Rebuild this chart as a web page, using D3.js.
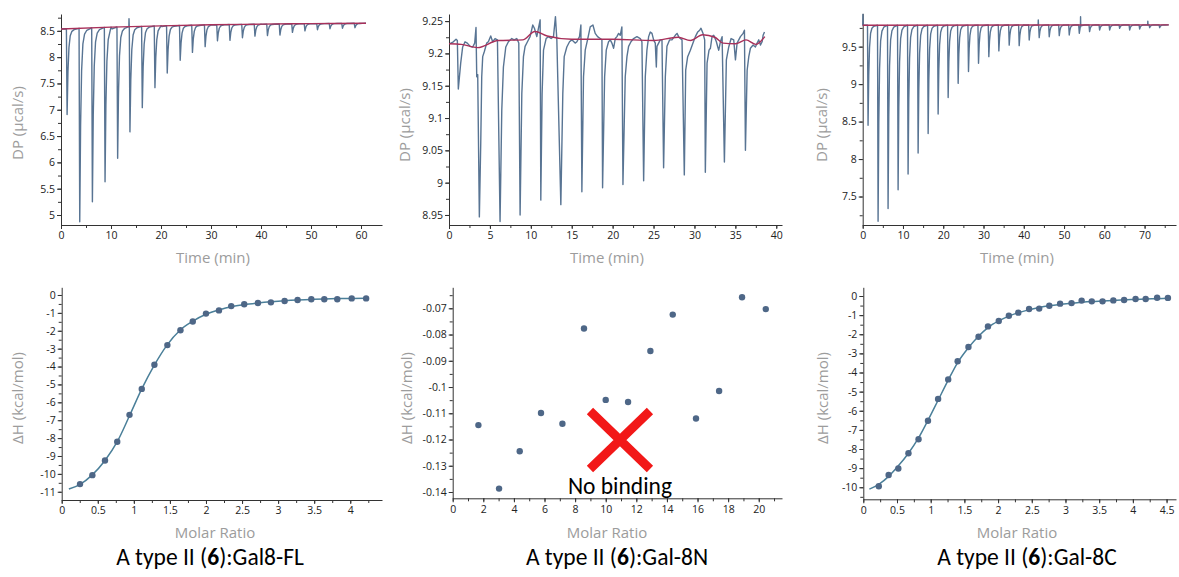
<!DOCTYPE html>
<html lang="en">
<head>
<meta charset="UTF-8">
<title>ITC panels</title>
<script src="https://d3js.org/d3.v7.min.js"></script>
<style>
    body { margin: 0; background: #fff; }
    .tick text { font-family: "Open Sans", sans-serif; font-size: 10.5px; fill: #222; }
    .axis path, .axis line { stroke: #333; }
    .title { font-family: "Open Sans", sans-serif; font-size: 15px; fill: #9c9c9c; }
    .caption { font-family: Carlito, "Open Sans", sans-serif; font-size: 23.5px; fill: #000; }
</style>
</head>
<body>
<script>
    // ---- raw thermograms (top row) ----
    // Gal8-FL: injection times (min), peak minima (ucal/s), baseline
    const injT1 = [1.13, 3.66, 6.19, 8.72, 11.24, 13.7, 16.17, 18.7, 21.16, 23.75, 26.2, 28.74,
        31.2, 33.7, 36.2, 38.7, 41.2, 43.7, 46.2, 48.7, 51.2, 53.7, 56.2, 58.7];
    const injMin1 = [6.91, 4.87, 5.25, 5.63, 6.08, 6.58, 7.04, 7.42, 7.70, 7.94, 8.09, 8.20,
        8.31, 8.32, 8.37, 8.40, 8.41, 8.42, 8.47, 8.50, 8.52, 8.54, 8.55, 8.56];
    const base1 = [[0, 8.535], [10, 8.57], [20, 8.595], [30, 8.615], [40, 8.627], [50, 8.637], [61, 8.645]];
    const spikes1 = [[13.6, 8.73]];

    // Gal-8N: noisy trace read point by point
    const trace2 = [[0.12, 9.215], [0.53, 9.218], [0.86, 9.222], [1.02, 9.220], [1.14, 9.145], [1.43, 9.185], [1.67, 9.210],
        [1.96, 9.218], [2.24, 9.216], [2.57, 9.211], [2.9, 9.210], [3.14, 9.216], [3.30, 9.240], [3.39, 9.164], [3.51, 9.167],
        [3.71, 8.947], [3.88, 9.061], [4.0, 9.164], [4.12, 9.195], [4.32, 9.203], [4.61, 9.216], [4.81, 9.218], [5.1, 9.227],
        [5.34, 9.218], [5.63, 9.223], [5.92, 9.221], [6.24, 8.940], [6.45, 9.112], [6.65, 9.179], [6.94, 9.210], [7.26, 9.218],
        [7.67, 9.223], [7.96, 9.221], [8.28, 9.223], [8.53, 9.216], [8.69, 8.950], [8.9, 9.138], [9.1, 9.195], [9.3, 9.211],
        [9.59, 9.218], [9.91, 9.226], [10.24, 9.244], [10.44, 9.239], [10.73, 9.226], [11.14, 9.252], [11.22, 8.973],
        [11.38, 9.138], [11.55, 9.205], [11.87, 9.223], [12.16, 9.226], [12.48, 9.223], [12.77, 9.226], [13.01, 9.257],
        [13.18, 9.221], [13.67, 8.966], [13.91, 9.138], [14.08, 9.195], [14.4, 9.210], [14.73, 9.218], [15.01, 9.221],
        [15.42, 9.216], [15.63, 9.218], [15.95, 9.226], [16.12, 9.244], [16.24, 8.986], [16.44, 9.164], [16.65, 9.205],
        [16.93, 9.221], [17.26, 9.241], [17.59, 9.244], [17.87, 9.231], [18.16, 9.226], [18.48, 9.223], [18.69, 9.221],
        [18.77, 8.992], [19.02, 9.164], [19.22, 9.205], [19.5, 9.218], [19.71, 9.221], [19.91, 9.216], [20.12, 9.208],
        [20.32, 9.223], [20.52, 9.226], [20.73, 9.231], [20.93, 9.228], [21.13, 9.241], [21.26, 8.997], [21.54, 9.164],
        [21.75, 9.195], [21.95, 9.211], [22.24, 9.218], [22.56, 9.223], [22.97, 9.226], [23.38, 9.223], [23.58, 9.218],
        [23.79, 9.003], [23.99, 9.164], [24.19, 9.205], [24.4, 9.226], [24.6, 9.233], [24.81, 9.231], [25.01, 9.221],
        [25.21, 9.216], [25.34, 9.179], [25.42, 9.211], [25.82, 9.221], [26.03, 9.221], [26.23, 9.023], [26.44, 9.164],
        [26.64, 9.211], [26.97, 9.221], [27.25, 9.221], [27.66, 9.228], [27.87, 9.231], [28.07, 9.226], [28.27, 9.223],
        [28.48, 9.221], [28.76, 9.012], [28.93, 9.174], [29.17, 9.195], [29.5, 9.205], [29.82, 9.216], [30.11, 9.226],
        [30.39, 9.233], [30.64, 9.236], [30.8, 9.239], [31.05, 9.231], [31.25, 9.221], [31.33, 9.016], [31.54, 9.185],
        [31.78, 9.205], [31.95, 9.208], [32.15, 9.226], [32.36, 9.228], [32.68, 9.218], [32.85, 9.210], [32.97, 9.205],
        [33.17, 9.218], [33.38, 9.226], [33.66, 9.032], [33.9, 9.190], [34.19, 9.210], [34.48, 9.223], [34.8, 9.221],
        [35.01, 9.190], [35.21, 9.216], [35.62, 9.226], [35.95, 9.231], [36.11, 9.236], [36.23, 9.050], [36.44, 9.174],
        [36.64, 9.195], [36.84, 9.208], [37.17, 9.213], [37.45, 9.210], [37.66, 9.216], [37.86, 9.221], [38.07, 9.213],
        [38.27, 9.218], [38.39, 9.228], [38.56, 9.233]];
    const base2 = [[0, 9.215], [1.5, 9.214], [3.5, 9.209], [6, 9.22], [9, 9.221], [10.5, 9.234], [12, 9.227], [15, 9.222],
        [20, 9.222], [25, 9.22], [28, 9.225], [29.5, 9.22], [31, 9.229], [32.5, 9.225], [33.5, 9.216], [35, 9.215],
        [36.3, 9.221], [37.5, 9.214], [38.6, 9.226]];

    // Gal-8C
    const injT3 = [1.24, 3.73, 6.21, 8.7, 11.18, 13.67, 16.16, 18.64, 21.13, 23.61, 26.18, 28.67, 31.23, 33.72, 36.29,
        38.77, 41.26, 43.74, 46.23, 48.72, 51.2, 53.69, 56.25, 58.74, 61.23, 63.71, 66.2, 68.68, 71.17, 73.65];
    const injMin3 = [8.45, 7.17, 7.34, 7.59, 7.80, 8.08, 8.34, 8.60, 8.82, 9.01, 9.167, 9.278, 9.367, 9.443, 9.52,
        9.513, 9.589, 9.62, 9.633, 9.647, 9.656, 9.678, 9.70, 9.722, 9.722, 9.744, 9.722, 9.736, 9.753, 9.753];
    const base3 = [[0, 9.785], [40, 9.789], [76, 9.79]];
    const spikes3 = [[0.05, 9.93], [43.6, 9.856], [54.1, 9.9], [70.8, 9.84]];

    // shape of one injection peak: [minutes after injection, fraction of depth]
    const peakShape = [[-0.05, 0], [0.09, 1], [0.26, 0.5], [0.46, 0.22], [0.72, 0.08], [1.05, 0.03], [1.5, 0.01]];

    // ---- integrated heats (bottom row) ----
    const ratio4 = [0.254, 0.425, 0.60, 0.77, 0.94, 1.11, 1.285, 1.465, 1.646, 1.817, 2.0, 2.18, 2.35, 2.53, 2.72,
        2.90, 3.09, 3.27, 3.46, 3.64, 3.82, 4.02, 4.22];
    const dH4 = [-10.57, -10.07, -9.25, -8.2, -6.7, -5.25, -3.9, -2.8, -1.97, -1.48, -1.04, -0.86, -0.62, -0.52, -0.45,
        -0.41, -0.34, -0.28, -0.24, -0.24, -0.24, -0.19, -0.19];
    const fit4 = [[0.1, -10.85], [0.25, -10.6], [0.42, -10.07], [0.6, -9.25], [0.77, -8.2], [0.94, -6.75], [1.11, -5.25],
        [1.28, -3.95], [1.46, -2.8], [1.64, -1.97], [1.82, -1.46], [2.0, -1.08], [2.18, -0.84], [2.35, -0.66],
        [2.53, -0.54], [2.72, -0.45], [2.9, -0.38], [3.09, -0.32], [3.27, -0.28], [3.46, -0.25], [3.64, -0.22],
        [3.82, -0.2], [4.02, -0.19], [4.22, -0.18]];

    const ratio5 = [1.68, 3.03, 4.38, 5.77, 7.17, 8.58, 10.0, 11.46, 12.92, 14.38, 15.9, 17.41, 18.91, 20.46];
    const dH5 = [-0.1145, -0.1387, -0.1245, -0.1099, -0.1140, -0.0777, -0.1049, -0.1057, -0.0863, -0.0724, -0.1120,
        -0.1015, -0.0658, -0.0703];

    const ratio6 = [0.23, 0.376, 0.52, 0.67, 0.82, 0.96, 1.11, 1.26, 1.40, 1.56, 1.71, 1.85, 2.01, 2.16, 2.30, 2.46,
        2.61, 2.76, 2.92, 3.09, 3.24, 3.39, 3.55, 3.71, 3.87, 4.04, 4.19, 4.36, 4.52];
    const dH6 = [-9.95, -9.36, -9.02, -8.22, -7.49, -6.52, -5.38, -4.36, -3.41, -2.67, -2.13, -1.59, -1.31, -1.03,
        -0.87, -0.68, -0.66, -0.51, -0.40, -0.37, -0.24, -0.28, -0.28, -0.23, -0.21, -0.16, -0.16, -0.09, -0.10];
    const fit6 = [[0.09, -10.1], [0.23, -9.85], [0.38, -9.42], [0.52, -8.88], [0.67, -8.22], [0.82, -7.42], [0.96, -6.5],
        [1.11, -5.45], [1.26, -4.4], [1.4, -3.48], [1.56, -2.7], [1.71, -2.1], [1.85, -1.65], [2.01, -1.3], [2.16, -1.05],
        [2.3, -0.87], [2.46, -0.72], [2.61, -0.6], [2.76, -0.51], [2.92, -0.44], [3.09, -0.38], [3.24, -0.33],
        [3.39, -0.29], [3.55, -0.26], [3.71, -0.23], [3.87, -0.2], [4.04, -0.18], [4.19, -0.16], [4.36, -0.14],
        [4.52, -0.12]];

    const captions = ["Gal8-FL", "Gal-8N", "Gal-8C"];

    const traceColor = "#587493", baseColor = "#a8305a", fitColor = "#4a7f99", dotColor = "#4e6787";

    const svg = d3.select("body").append("svg")
        .attr("width", 1179).attr("height", 577);

    function steps(lo, hi, step) {
        return d3.range(Math.ceil(lo / step - 1e-9), Math.floor(hi / step + 1e-9) + 1)
            .map(k => +(k * step).toFixed(6));
    }
    const fmt = d => String(+d.toFixed(4));

    function panel(o) {
        const x = d3.scaleLinear().domain(o.xd).range(o.xr);
        const y = d3.scaleLinear().domain(o.yd).range(o.yr);
        const g = svg.append("g");

        // minor ticks
        g.append("g").attr("class", "axis").attr("transform", `translate(0,${o.yr[0]})`)
            .call(d3.axisBottom(x).tickValues(steps(o.xd[0], o.xd[1], o.xm)).tickSize(3).tickFormat(""))
            .select(".domain").remove();
        g.append("g").attr("class", "axis").attr("transform", `translate(${o.xr[0]},0)`)
            .call(d3.axisLeft(y).tickValues(steps(o.yd[0], o.yd[1], o.ym)).tickSize(3).tickFormat(""))
            .select(".domain").remove();
        // major ticks
        g.append("g").attr("class", "axis").attr("transform", `translate(0,${o.yr[0]})`)
            .call(d3.axisBottom(x).tickValues(steps(o.xd[0], o.xd[1], o.xM)).tickSize(4)
                .tickSizeOuter(0).tickPadding(3).tickFormat(fmt));
        g.append("g").attr("class", "axis").attr("transform", `translate(${o.xr[0]},0)`)
            .call(d3.axisLeft(y).tickValues(steps(o.yd[0], o.yd[1], o.yM)).tickSize(4)
                .tickSizeOuter(0).tickPadding(2).tickFormat(fmt));

        g.append("text").attr("class", "title").attr("text-anchor", "middle")
            .attr("x", o.xt[0]).attr("y", o.xt[1]).text(o.xLabel);
        g.append("text").attr("class", "title").attr("text-anchor", "middle")
            .attr("transform", `translate(${o.yt[0]},${o.yt[1]}) rotate(-90)`).text(o.yLabel);
        return { g, x, y };
    }

    // build a thermogram from injections: baseline points + one peak per injection
    function thermogram(base, injT, injMin, spikes) {
        const bs = d3.scaleLinear().domain(base.map(d => d[0])).range(base.map(d => d[1]));
        let pts = base.slice();
        injT.forEach((t, i) => {
            const b = bs(t), depth = b - injMin[i];
            peakShape.forEach(s => pts.push([t + s[0], b - depth * s[1]]));
        });
        spikes.forEach(s => {
            pts.push([s[0] - 0.03, bs(s[0])], [s[0], s[1]], [s[0] + 0.06, bs(s[0])]);
        });
        pts = pts.filter(p => p[0] >= base[0][0] && p[0] <= base[base.length - 1][0]);
        pts.sort((a, b) => a[0] - b[0]);
        return pts;
    }

    function drawTrace(p, pts, base) {
        p.g.append("path").datum(pts)
            .attr("fill", "none").attr("stroke", traceColor).attr("stroke-width", 1.4)
            .attr("stroke-linejoin", "round")
            .attr("d", d3.line().x(d => p.x(d[0])).y(d => p.y(d[1])));
        p.g.append("path").datum(base)
            .attr("fill", "none").attr("stroke", baseColor).attr("stroke-width", 1.4)
            .attr("d", d3.line().curve(d3.curveMonotoneX).x(d => p.x(d[0])).y(d => p.y(d[1])));
    }

    function drawHeats(p, xs, ys, fit) {
        if (fit) {
            p.g.append("path").datum(fit)
                .attr("fill", "none").attr("stroke", fitColor).attr("stroke-width", 1.5)
                .attr("d", d3.line().curve(d3.curveMonotoneX).x(d => p.x(d[0])).y(d => p.y(d[1])));
        }
        p.g.selectAll(".dot").data(xs).enter().append("circle")
            .attr("cx", d => p.x(d))
            .attr("cy", (d, i) => p.y(ys[i]))
            .attr("r", 3.2)
            .attr("fill", dotColor);
    }

    const dp = "DP (\u00b5cal/s)", tm = "Time (min)", dh = "\u0394H (kcal/mol)", mr = "Molar Ratio";

    // top row
    const p1 = panel({ xd: [0, 64.2], xr: [61, 382], yd: [4.81, 8.82], yr: [225, 14], xM: 10, xm: 5, yM: 0.5, ym: 0.25,
        xt: [213, 263], yt: [23, 123], xLabel: tm, yLabel: dp });
    drawTrace(p1, thermogram(base1, injT1, injMin1, spikes1), base1);

    const p2 = panel({ xd: [0, 40.7], xr: [449, 782], yd: [8.9345, 9.261], yr: [225, 14], xM: 5, xm: 2.5, yM: 0.05, ym: 0.025,
        xt: [607, 263], yt: [410, 125], xLabel: tm, yLabel: dp });
    drawTrace(p2, trace2, base2);

    const p3 = panel({ xd: [0, 77.8], xr: [862.7, 1176], yd: [7.12, 9.945], yr: [225, 13.3], xM: 10, xm: 5, yM: 0.5, ym: 0.25,
        xt: [1017, 263], yt: [827, 125], xLabel: tm, yLabel: dp });
    drawTrace(p3, thermogram(base3, injT3, injMin3, spikes3), base3);

    // bottom row
    const p4 = panel({ xd: [0, 4.44], xr: [61.7, 382], yd: [-11.46, 0.43], yr: [500, 287.3], xM: 0.5, xm: 0.25, yM: 1, ym: 0.5,
        xt: [215, 538], yt: [23, 398], xLabel: mr, yLabel: dh });
    drawHeats(p4, ratio4, dH4, fit4);

    const p5 = panel({ xd: [0, 21.52], xr: [452.7, 782], yd: [-0.1424, -0.062], yr: [498.3, 287.3], xM: 2, xm: 1, yM: 0.01, ym: 0.005,
        xt: [607, 538], yt: [412, 398], xLabel: mr, yLabel: dh });
    drawHeats(p5, ratio5, dH5, null);

    // "no binding" mark
    const cx = p5.x(10.93), cy = p5.y(-0.1202);
    p5.g.append("path")
        .attr("d", `M${cx - 30},${cy - 29}L${cx + 30},${cy + 29}M${cx + 30},${cy - 29}L${cx - 30},${cy + 29}`)
        .attr("stroke", "#f21818").attr("stroke-width", 9).attr("fill", "none");
    p5.g.append("text").attr("class", "caption").attr("text-anchor", "middle")
        .attr("x", cx).attr("y", 494).style("font-size", "23.5px").text("No binding");

    const p6 = panel({ xd: [0, 4.64], xr: [863.3, 1176], yd: [-10.63, 0.455], yr: [499.3, 287.3], xM: 0.5, xm: 0.25, yM: 1, ym: 0.5,
        xt: [1017, 538], yt: [828, 398], xLabel: mr, yLabel: dh });
    drawHeats(p6, ratio6, dH6, fit6);

    // captions
    const capX = [210, 617, 1027];
    captions.forEach((c, i) => {
        const t = svg.append("text").attr("class", "caption").attr("text-anchor", "middle")
            .attr("x", capX[i]).attr("y", 565);
        t.append("tspan").text("A type II (");
        t.append("tspan").attr("font-weight", "bold").text("6");
        t.append("tspan").text("):" + c);
    });
</script>
</body>
</html>
